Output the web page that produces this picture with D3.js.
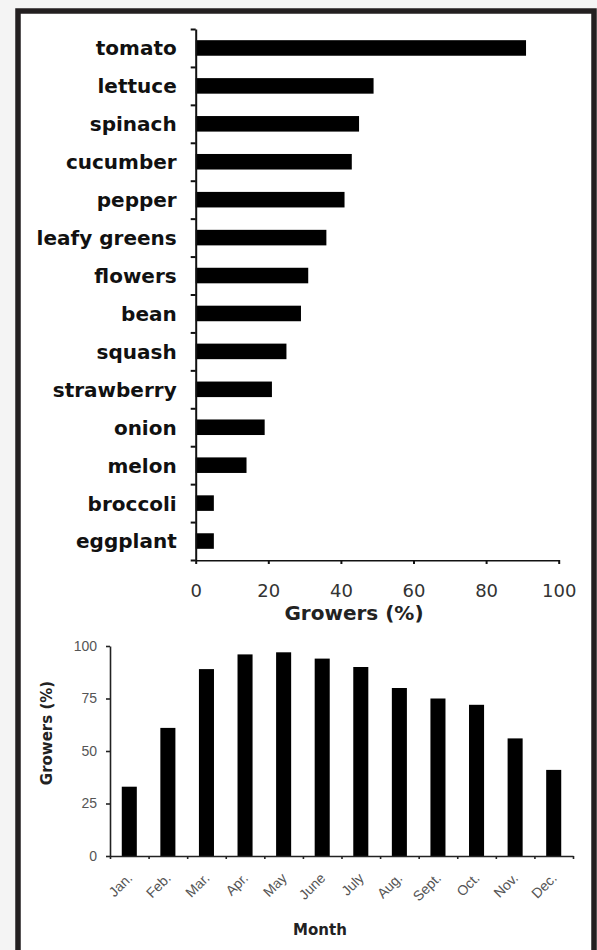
<!DOCTYPE html>
<html>
<head>
<meta charset="utf-8">
<script src="https://cdn.jsdelivr.net/npm/d3@7"></script>
<style>
  body { margin: 0; background: #f4f4f4; }
  svg { display: block; }
</style>
</head>
<body>
<div id="viz"></div>
<script>
var crops = ["tomato","lettuce","spinach","cucumber","pepper","leafy greens","flowers","bean","squash","strawberry","onion","melon","broccoli","eggplant"];
var cropPct = [91,49,45,43,41,36,31,29,25,21,19,14,5,5];
var cropTicks = [0,20,40,60,80,100];

var months = ["Jan.","Feb.","Mar.","Apr.","May","June","July","Aug.","Sept.","Oct.","Nov.","Dec."];
var monthPct = [33,61,89,96,97,94,90,80,75,72,56,41];
var monthTicks = [0,25,50,75,100];

var W = 597, H = 950;

var svg = d3.select("#viz")
  .append("svg")
  .attr("width", W)
  .attr("height", H);

// frame
svg.append("rect").attr("width", W).attr("height", H).attr("fill", "#f4f4f4");
svg.append("rect")
  .attr("x", 18).attr("y", 11)
  .attr("width", 576).attr("height", 980)
  .attr("fill", "#fff")
  .attr("stroke", "#231f20")
  .attr("stroke-width", 5.5);

svg.append("clipPath").attr("id", "cut")
  .append("rect").attr("x", 0).attr("y", 0).attr("width", 576).attr("height", H);

// ---- top chart: crops ----
var t = {left: 195.7, right: 558.7, top: 29, bottom: 560};

var x1 = d3.scaleLinear().domain([0, 100]).range([t.left, t.right]);
var y1 = d3.scaleBand().domain(crops).range([t.top, t.bottom])
  .paddingInner(0.59).paddingOuter(0.295);
var y1edge = d3.scaleLinear().domain([0, crops.length]).range([t.top, t.bottom]);

var topG = svg.append("g");

topG.selectAll("rect.crop")
  .data(crops)
  .enter()
  .append("rect")
  .attr("class", "crop")
  .attr("x", x1(0))
  .attr("y", function(d) { return y1(d); })
  .attr("width", function(d, i) { return x1(cropPct[i]) - x1(0); })
  .attr("height", y1.bandwidth())
  .attr("fill", "#000");

// category labels
var yLab = topG.append("g")
  .attr("transform", "translate(" + t.left + ",0)")
  .call(d3.axisLeft(y1).tickSize(0).tickPadding(19));
yLab.select(".domain").remove();
yLab.selectAll("text")
  .attr("dy", ".37em")
  .attr("font-family", "DejaVu Sans")
  .attr("font-weight", "bold")
  .attr("font-size", "20px")
  .attr("fill", "#111");

// boundary ticks
var yTick = topG.append("g")
  .attr("transform", "translate(" + t.left + ",0)")
  .call(d3.axisLeft(y1edge).tickValues(d3.range(crops.length + 1)).tickFormat("").tickSize(5).tickSizeOuter(0));
yTick.select(".domain").attr("stroke", "#111").attr("stroke-width", 2);
yTick.selectAll("line").attr("stroke", "#111").attr("stroke-width", 2);

var xAx = topG.append("g")
  .attr("transform", "translate(0," + t.bottom + ")")
  .attr("clip-path", "url(#cut)")
  .call(d3.axisBottom(x1).tickValues(cropTicks).tickSize(4).tickSizeOuter(0).tickPadding(20));
xAx.select(".domain").attr("stroke", "#111").attr("stroke-width", 2);
xAx.selectAll("line").attr("stroke", "#111").attr("stroke-width", 2);
xAx.selectAll("text")
  .attr("font-family", "DejaVu Sans")
  .attr("font-size", "18px")
  .attr("fill", "#333");

topG.append("text")
  .attr("x", 354)
  .attr("y", 620)
  .attr("text-anchor", "middle")
  .attr("font-family", "DejaVu Sans")
  .attr("font-weight", "bold")
  .attr("font-size", "20px")
  .attr("fill", "#222")
  .text("Growers (%)");

// ---- bottom chart: months ----
var b = {left: 110, right: 573, top: 646, bottom: 856};

var x2 = d3.scaleBand().domain(months).range([b.left, b.right])
  .paddingInner(0.61).paddingOuter(0.305);
var x2edge = d3.scaleLinear().domain([0, months.length]).range([b.left, b.right]);
var y2 = d3.scaleLinear().domain([0, 100]).range([b.bottom, b.top]);

var bot = svg.append("g");

bot.selectAll("rect.month")
  .data(months)
  .enter()
  .append("rect")
  .attr("class", "month")
  .attr("x", function(d) { return x2(d); })
  .attr("y", function(d, i) { return y2(monthPct[i]); })
  .attr("width", x2.bandwidth())
  .attr("height", function(d, i) { return y2(0) - y2(monthPct[i]); })
  .attr("fill", "#000");

var yAx2 = bot.append("g")
  .attr("transform", "translate(" + b.left + ",0)")
  .call(d3.axisLeft(y2).tickValues(monthTicks).tickSize(4).tickSizeOuter(0).tickPadding(9));
yAx2.select(".domain").attr("stroke", "#222").attr("stroke-width", 1.6);
yAx2.selectAll("line").attr("stroke", "#222").attr("stroke-width", 1.6);
yAx2.selectAll("text")
  .attr("font-family", "Liberation Sans")
  .attr("font-size", "14px")
  .attr("fill", "#555");

var xTick2 = bot.append("g")
  .attr("transform", "translate(0," + b.bottom + ")")
  .call(d3.axisBottom(x2edge).tickValues(d3.range(months.length + 1)).tickFormat("").tickSize(3).tickSizeOuter(0));
xTick2.select(".domain").attr("stroke", "#222").attr("stroke-width", 1.6);
xTick2.selectAll("line").attr("stroke", "#222").attr("stroke-width", 1.6);

var xLab2 = bot.append("g")
  .attr("transform", "translate(0," + b.bottom + ")")
  .call(d3.axisBottom(x2).tickSize(0));
xLab2.select(".domain").remove();
xLab2.selectAll("text")
  .attr("y", 0)
  .attr("dy", 0)
  .attr("text-anchor", "end")
  .attr("transform", "translate(4,23) rotate(-45)")
  .attr("font-family", "Liberation Sans")
  .attr("font-size", "14px")
  .attr("fill", "#555");

bot.append("text")
  .attr("x", 320)
  .attr("y", 935)
  .attr("text-anchor", "middle")
  .attr("font-family", "DejaVu Sans")
  .attr("font-weight", "bold")
  .attr("font-size", "15px")
  .attr("fill", "#222")
  .text("Month");

bot.append("text")
  .attr("transform", "translate(52,733) rotate(-90)")
  .attr("text-anchor", "middle")
  .attr("font-family", "DejaVu Sans")
  .attr("font-weight", "bold")
  .attr("font-size", "15px")
  .attr("fill", "#222")
  .text("Growers (%)");
</script>
</body>
</html>
